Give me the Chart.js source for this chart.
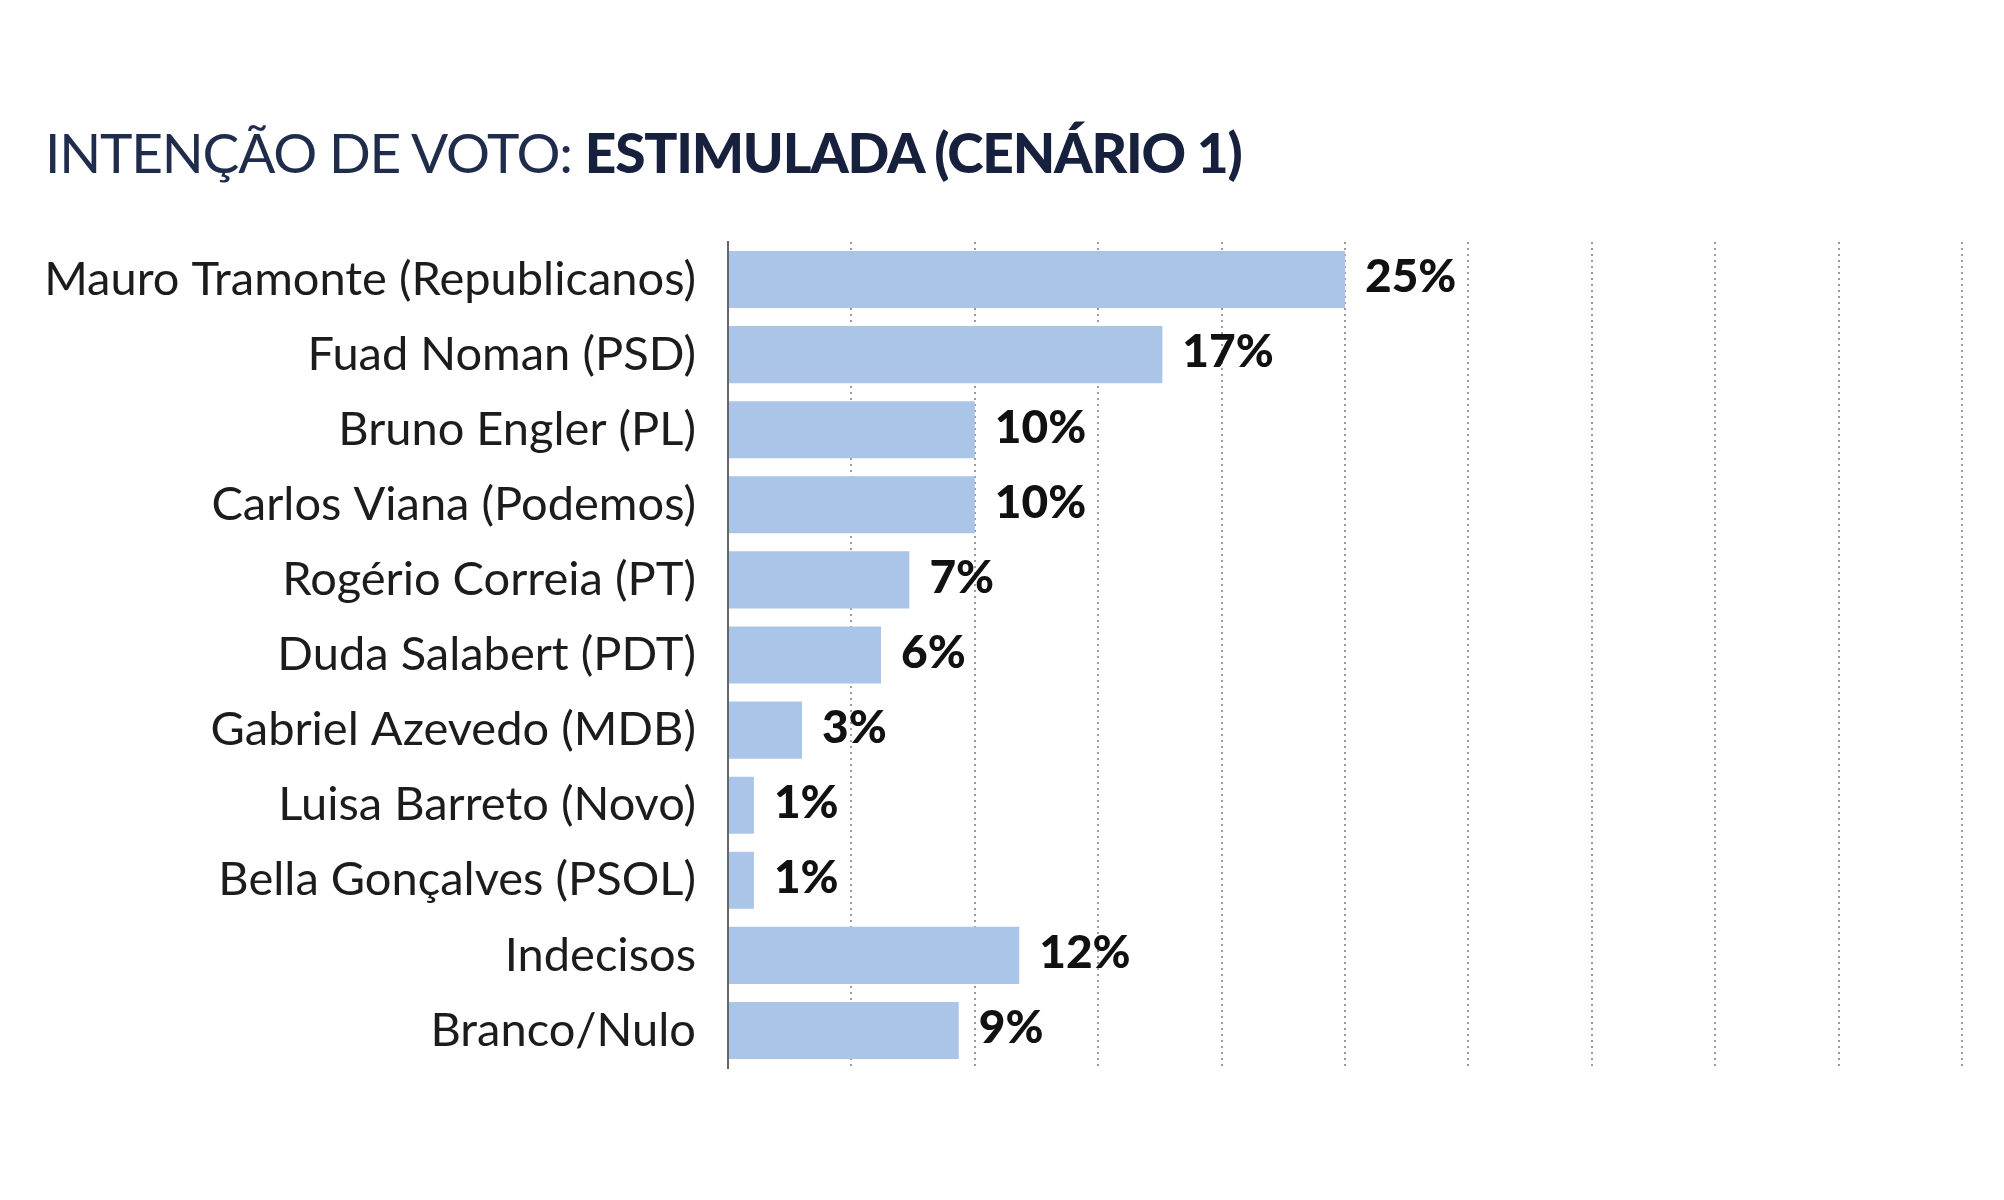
<!DOCTYPE html>
<html>
<head>
<meta charset="utf-8">
<script src="https://cdn.jsdelivr.net/npm/chart.js@4.4.0/dist/chart.umd.min.js"></script>
<style>
    body { margin: 0; background: #ffffff; }
    #wrap { position: relative; width: 2004px; height: 1200px; }
    #title {
        position: absolute; left: 45px; top: 119px;
        font-family: Lato, sans-serif; font-size: 55px; color: #1f2c4c;
        white-space: nowrap; letter-spacing: -1.2px;
    }
    #title b { font-weight: 900; color: #17213d; }
    canvas { position: absolute; left: 0; top: 0; }
</style>
</head>
<body>
<div id="wrap">
    <canvas id="chart" width="2004" height="1200"></canvas>
    <div id="title">INTENÇÃO DE VOTO: <b>ESTIMULADA (CENÁRIO 1)</b></div>
</div>
<script>
// Data for the chart
const candidates = [
    "Mauro Tramonte (Republicanos)",
    "Fuad Noman (PSD)",
    "Bruno Engler (PL)",
    "Carlos Viana (Podemos)",
    "Rogério Correia (PT)",
    "Duda Salabert (PDT)",
    "Gabriel Azevedo (MDB)",
    "Luisa Barreto (Novo)",
    "Bella Gonçalves (PSOL)",
    "Indecisos",
    "Branco/Nulo",
];
const votes = [25, 17.6, 10, 10, 7.35, 6.2, 3, 1.05, 1.05, 11.8, 9.35];
const voteLabels = ["25%", "17%", "10%", "10%", "7%", "6%", "3%", "1%", "1%", "12%", "9%"];
const xMax = 50;
const xStep = 5;

// Draws the percentage next to each bar
const valueLabels = {
    id: "valueLabels",
    afterDatasetsDraw(chart) {
        const ctx = chart.ctx;
        const meta = chart.getDatasetMeta(0);
        ctx.save();
        ctx.font = "900 46px Lato";
        ctx.fillStyle = "#111111";
        ctx.textAlign = "left";
        ctx.textBaseline = "middle";
        meta.data.forEach((bar, i) => {
            ctx.fillText(voteLabels[i], bar.x + 20, bar.y - 2);
        });
        ctx.restore();
    },
};

const ctx = document.getElementById("chart").getContext("2d");
new Chart(ctx, {
    type: "bar",
    data: {
        labels: candidates,
        datasets: [
            {
                data: votes,
                backgroundColor: "#abc5e9",
                borderWidth: 0,
                barPercentage: 0.76,
                categoryPercentage: 1,
            },
        ],
    },
    options: {
        indexAxis: "y",
        responsive: false,
        animation: false,
        layout: {
            padding: { top: 242, bottom: 132, right: 42, left: 0 },
        },
        plugins: {
            legend: { display: false },
            tooltip: { enabled: false },
        },
        scales: {
            x: {
                min: 0,
                max: xMax,
                ticks: { display: false, stepSize: xStep },
                grid: { color: "#9a9a9a", lineWidth: 2, drawTicks: false },
                border: { display: false, dash: [2, 4] },
            },
            y: {
                ticks: {
                    color: "#1c1c1c",
                    font: { family: "Lato", size: 47 },
                    padding: 32,
                },
                grid: { display: false, drawTicks: false },
                border: { display: true, color: "#666666", width: 2 },
                afterFit(scale) {
                    scale.width = 728;
                },
            },
        },
    },
    plugins: [valueLabels],
});
</script>
</body>
</html>
